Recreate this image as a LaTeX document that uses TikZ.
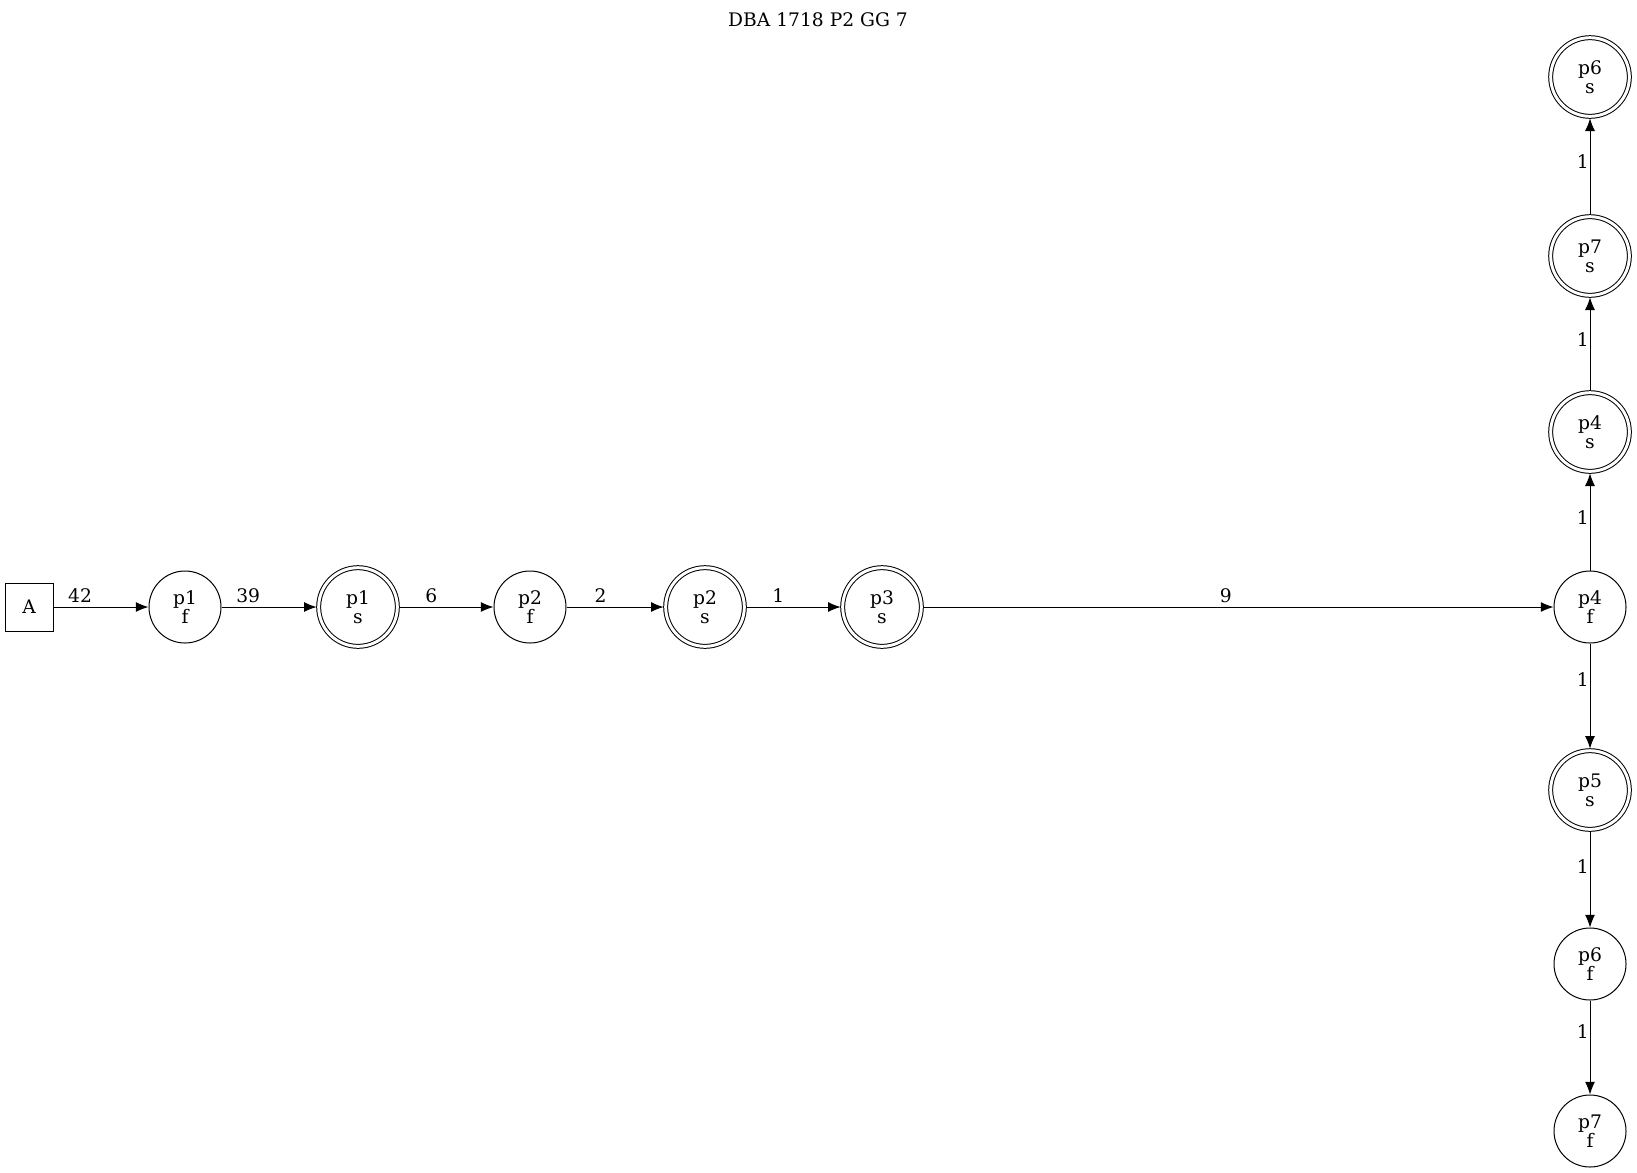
\documentclass[tikz,border=0pt]{standalone}
\usepackage{fontspec}
\setmainfont{DejaVu Serif}
\usetikzlibrary{arrows.meta}
\tikzset{
  startbox/.style={shape=rectangle, draw=black, line width=0.75pt, minimum size=36pt, inner sep=0pt},
  fnode/.style={shape=circle, draw=black, line width=0.75pt, minimum size=54pt, inner sep=0pt, align=center},
  snode/.style={fnode, minimum size=59pt, double, double distance=2.2pt, outer sep=1.5pt},
  flow/.style={-{Latex[length=9.5pt, width=7.5pt]}, line width=0.75pt, draw=black},
  lbl/.style={inner sep=3pt},
  vlbl/.style={left, inner sep=0.5pt}
}
\begin{document}
\begin{tikzpicture}[x=0.75pt, y=-0.75pt, font=\fontsize{14}{14}\selectfont]
\useasboundingbox (0,0) rectangle (1637,1172);
\node (title) at (818,20) {DBA 1718 P2 GG 7};
\node[startbox] (A) at (29,607) {A};
\node[fnode] (p1f) at (185,607) {p1\\f};
\node[snode] (p1s) at (358,607) {p1\\s};
\node[fnode] (p2f) at (530,607) {p2\\f};
\node[snode] (p2s) at (705,607) {p2\\s};
\node[snode] (p3s) at (882,607) {p3\\s};
\node[fnode] (p4f) at (1590,607) {p4\\f};
\node[snode] (p4s) at (1590,432) {p4\\s};
\node[snode] (p7s) at (1590,256) {p7\\s};
\node[snode] (p6s) at (1590,77) {p6\\s};
\node[snode] (p5s) at (1590,790) {p5\\s};
\node[fnode] (p6f) at (1590,964) {p6\\f};
\node[fnode] (p7f) at (1590,1131) {p7\\f};
\path [flow] (A) edge node[lbl, above, pos=0.28] {42} (p1f);
\path [flow] (p1f) edge node[lbl, above, pos=0.28] {39} (p1s);
\path [flow] (p1s) edge node[lbl, above, pos=0.34] {6} (p2f);
\path [flow] (p2f) edge node[lbl, above, pos=0.35] {2} (p2s);
\path [flow] (p2s) edge node[lbl, above, pos=0.34] {1} (p3s);
\path [flow] (p3s) edge node[lbl, above, pos=0.48] {9} (p4f);
\path [flow] (p4f) edge node[vlbl, pos=0.54] {1} (p4s);
\path [flow] (p4s) edge node[vlbl, pos=0.55] {1} (p7s);
\path [flow] (p7s) edge node[vlbl, pos=0.55] {1} (p6s);
\path [flow] (p4f) edge node[vlbl, pos=0.34] {1} (p5s);
\path [flow] (p5s) edge node[vlbl, pos=0.37] {1} (p6f);
\path [flow] (p6f) edge node[vlbl, pos=0.33] {1} (p7f);
\end{tikzpicture}
\end{document}
